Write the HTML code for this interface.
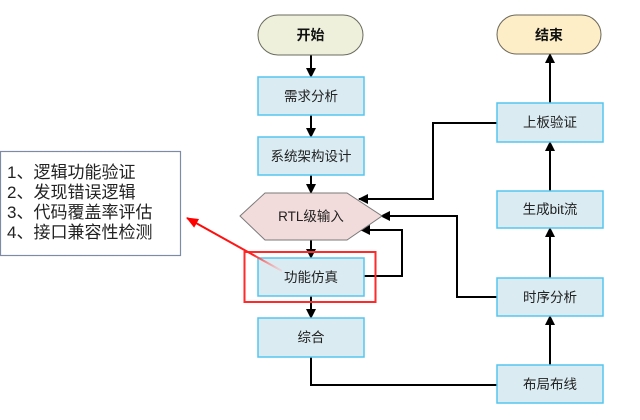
<!DOCTYPE html>
<html><head><meta charset="utf-8">
<style>
html,body{margin:0;padding:0;background:#fff;}
svg{display:block;}
text{font-family:"Liberation Sans","Noto Sans CJK SC",sans-serif;}
</style></head>
<body>
<svg width="640" height="420" viewBox="0 0 640 420" xmlns="http://www.w3.org/2000/svg">
<defs>
<marker id="ah" markerWidth="10" markerHeight="10" refX="9" refY="5" orient="auto" markerUnits="userSpaceOnUse">
<path d="M0,0 L10,5 L0,10 Z" fill="#000"/>
</marker>
<marker id="ahr" markerWidth="12" markerHeight="10" refX="11" refY="5" orient="auto" markerUnits="userSpaceOnUse">
<path d="M0,0 L12,5 L0,10 Z" fill="#ff0000"/>
</marker>
<linearGradient id="rg" x1="186" y1="217" x2="282" y2="271" gradientUnits="userSpaceOnUse">
<stop offset="0" stop-color="#ff0000"/>
<stop offset="0.7" stop-color="#ff2020"/>
<stop offset="1" stop-color="#ffb0b0" stop-opacity="0.3"/>
</linearGradient>
</defs>

<!-- text box -->
<rect x="0.5" y="151.5" width="180" height="104" fill="#fff" stroke="#7f8aa6" stroke-width="1.2"/>
<text x="7" y="178" font-size="17" fill="#222">1、逻辑功能验证</text>
<text x="7" y="198" font-size="17" fill="#222">2、发现错误逻辑</text>
<text x="7" y="218" font-size="17" fill="#222">3、代码覆盖率评估</text>
<text x="7" y="238" font-size="17" fill="#222">4、接口兼容性检测</text>

<!-- left column connectors -->
<line x1="311" y1="55" x2="311" y2="77" stroke="#000" stroke-width="2" marker-end="url(#ah)"/>
<line x1="311" y1="115" x2="311" y2="137" stroke="#000" stroke-width="2" marker-end="url(#ah)"/>
<line x1="311" y1="175" x2="311" y2="193" stroke="#000" stroke-width="2" marker-end="url(#ah)"/>
<line x1="311" y1="240" x2="311" y2="258" stroke="#000" stroke-width="2" marker-end="url(#ah)"/>
<line x1="311" y1="296" x2="311" y2="318" stroke="#000" stroke-width="2" marker-end="url(#ah)"/>

<!-- right column connectors -->
<line x1="550" y1="365" x2="550" y2="316" stroke="#000" stroke-width="2" marker-end="url(#ah)"/>
<line x1="550" y1="278" x2="550" y2="228" stroke="#000" stroke-width="2" marker-end="url(#ah)"/>
<line x1="550" y1="192" x2="550" y2="142" stroke="#000" stroke-width="2" marker-end="url(#ah)"/>
<line x1="550" y1="103" x2="550" y2="54" stroke="#000" stroke-width="2" marker-end="url(#ah)"/>

<!-- 综合 -> 布局布线 -->
<polyline points="311,357 311,385 497,385" fill="none" stroke="#000" stroke-width="2"/>
<!-- 上板验证 -> RTL -->
<polyline points="497,123 433,123 433,199 359,199" fill="none" stroke="#000" stroke-width="2" marker-end="url(#ah)"/>
<!-- 时序分析 -> RTL -->
<polyline points="497,297 457,297 457,216 381,216" fill="none" stroke="#000" stroke-width="2" marker-end="url(#ah)"/>
<!-- 功能仿真 loop -> RTL -->
<polyline points="364,276 402,276 402,230 361,230" fill="none" stroke="#000" stroke-width="2" marker-end="url(#ah)"/>

<!-- start / end -->
<rect x="258" y="15" width="105" height="40" rx="20" ry="20" fill="#eef0dc" stroke="#6b6b5e" stroke-width="1"/>
<text x="310.5" y="40" font-size="14" font-weight="bold" text-anchor="middle" fill="#111">开始</text>
<rect x="497" y="15" width="104" height="39" rx="19.5" ry="19.5" fill="#fdeec8" stroke="#6b6658" stroke-width="1"/>
<text x="549" y="40" font-size="14" font-weight="bold" text-anchor="middle" fill="#111">结束</text>

<!-- left boxes -->
<g fill="#daebf2" stroke="#55c6ef" stroke-width="1.5">
<rect x="258" y="77" width="106" height="38"/>
<rect x="258" y="137" width="106" height="38"/>
<rect x="258" y="258" width="106" height="38"/>
<rect x="258" y="318" width="106" height="39"/>
<rect x="497" y="103" width="106" height="39"/>
<rect x="497" y="191" width="106" height="37"/>
<rect x="497" y="278" width="106" height="38"/>
<rect x="497" y="365" width="106" height="38"/>
</g>
<g font-size="13.5" fill="#222" text-anchor="middle">
<text x="311" y="101">需求分析</text>
<text x="311" y="161">系统架构设计</text>
<text x="311" y="282">功能仿真</text>
<text x="311" y="342">综合</text>
<text x="550" y="127">上板验证</text>
<text x="550" y="214">生成bit流</text>
<text x="550" y="302">时序分析</text>
<text x="550" y="389">布局布线</text>
</g>

<!-- hexagon -->
<polygon points="240,216 265,193 347,193 382,216 347,240 265,240" fill="#f2dcdb" stroke="#7a7a7a" stroke-width="1"/>
<text x="311" y="221" font-size="13.5" text-anchor="middle" fill="#222">RTL级输入</text>

<!-- red highlight -->
<rect x="244.5" y="252" width="131" height="50" fill="none" stroke="#ff2a2a" stroke-width="2"/>
<line x1="282" y1="271" x2="187" y2="218" stroke="url(#rg)" stroke-width="2" marker-end="url(#ahr)"/>
</svg>
</body></html>
